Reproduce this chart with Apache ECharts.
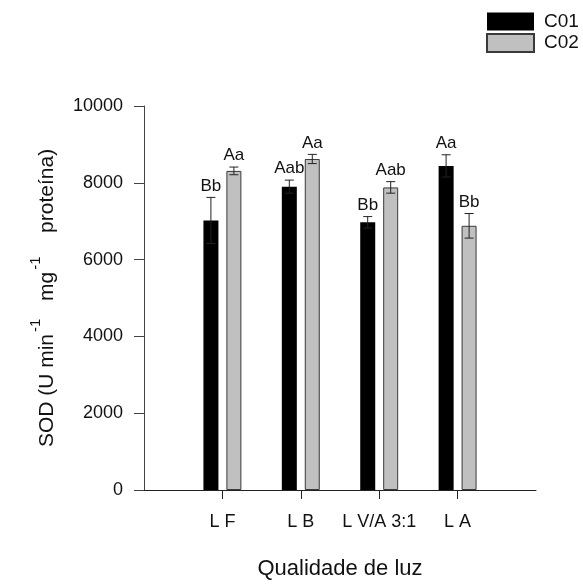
<!DOCTYPE html>
<html>
<head>
<meta charset="utf-8">
<script src="https://cdn.jsdelivr.net/npm/echarts@6/dist/echarts.min.js"></script>
<style>
  html, body { margin: 0; padding: 0; background: #fff; }
  #chart { width: 583px; height: 585px; }
</style>
</head>
<body>
<div id="chart"></div>
<script>
// Light quality treatments
const categories = ['L F', 'L B', 'L V/A 3:1', 'L A'];

// SOD activity means and standard errors
const c01Values = [7020, 7900, 6970, 8440];
const c01Errors = [600, 170, 150, 290];
const c01Letters = ['Bb', 'Aab', 'Bb', 'Aa'];

const c02Values = [8310, 8620, 7880, 6880];
const c02Errors = [100, 120, 150, 320];
const c02Letters = ['Aa', 'Aa', 'Aab', 'Bb'];

const yTicks = [0, 2000, 4000, 6000, 8000, 10000];

const FONT = "'Liberation Sans', Arial, sans-serif";

// pad the axis with empty slots so the groups sit on interior ticks
const axisCats = [''].concat(categories, ['']);
const pad = arr => [null].concat(arr, [null]);

const BAR_W = 15;
const HALF_SPACING = 11.5;

function renderError(letters, side) {
  return function (params, api) {
    const x = api.value(0);
    const v = api.value(1);
    const e = api.value(2);
    const top = api.coord([x, v + e]);
    const bot = api.coord([x, v - e]);
    const cx = top[0] + side * HALF_SPACING;
    const cap = 4.5;
    const ls = { stroke: '#222', lineWidth: 1 };
    return {
      type: 'group',
      children: [
        { type: 'line', shape: { x1: cx, y1: bot[1], x2: cx, y2: top[1] }, style: ls },
        { type: 'line', shape: { x1: cx - cap, y1: top[1], x2: cx + cap, y2: top[1] }, style: ls },
        { type: 'line', shape: { x1: cx - cap, y1: bot[1], x2: cx + cap, y2: bot[1] }, style: ls },
        {
          type: 'text',
          x: cx, y: top[1] - 3,
          style: {
            text: letters[params.dataIndex], fill: '#111', font: '17px ' + FONT,
            align: 'center', verticalAlign: 'bottom'
          }
        }
      ]
    };
  };
}

function makeErrorSeries(name, values, errors, letters, side) {
  return {
    name: name,
    type: 'custom',
    z: 5,
    silent: true,
    data: values.map((v, i) => [i + 1, v, errors[i]]),
    renderItem: renderError(letters, side)
  };
}

const chart = echarts.init(document.getElementById('chart'), null, { renderer: 'canvas' });

chart.setOption({
  backgroundColor: '#fff',
  animation: false,
  textStyle: { fontFamily: FONT },
  grid: { left: 144, right: 47, top: 106, bottom: 87, containLabel: false },
  legend: {
    orient: 'vertical',
    left: 486, top: 12,
    data: ['C01', 'C02'],
    icon: 'rect',
    itemWidth: 47, itemHeight: 18, itemGap: 2,
    padding: 0,
    textStyle: { fontSize: 19, color: '#111', fontFamily: FONT, padding: [0, 0, 0, 5] }
  },
  xAxis: {
    type: 'category',
    data: axisCats,
    boundaryGap: false,
    axisLine: { lineStyle: { color: '#222', width: 1 } },
    axisTick: {
      length: 9,
      interval: (i, v) => v !== '',
      lineStyle: { color: '#222' }
    },
    axisLabel: {
      interval: 0, margin: 23, fontSize: 18, color: '#111', fontFamily: FONT
    },
    name: 'Qualidade de luz',
    nameLocation: 'middle',
    nameGap: 68,
    nameTextStyle: { fontSize: 22, color: '#111', fontFamily: FONT },
    splitLine: { show: false }
  },
  yAxis: {
    type: 'value',
    min: yTicks[0],
    max: yTicks[yTicks.length - 1],
    interval: yTicks[1] - yTicks[0],
    axisLine: { show: true, lineStyle: { color: '#444', width: 1 } },
    axisTick: { show: true, length: 10, lineStyle: { color: '#444' } },
    axisLabel: {
      margin: 21, fontSize: 18, color: '#111', fontFamily: FONT,
      formatter: v => String(v)
    },
    splitLine: { show: false },
    name: '{a|SOD (U min}{s|-1}{a|  mg}{s|-1}{a|   proteína)}',
    nameLocation: 'middle',
    nameRotate: 90,
    nameGap: 86,
    nameTextStyle: {
      fontFamily: FONT,
      rich: {
        a: { fontSize: 21, color: '#111', fontFamily: FONT, lineHeight: 30, verticalAlign: 'bottom' },
        s: { fontSize: 15, color: '#111', fontFamily: FONT, lineHeight: 30, verticalAlign: 'top', padding: [0, 6, 0, 2] }
      }
    }
  },
  series: [
    {
      name: 'C01',
      type: 'bar',
      data: pad(c01Values),
      barWidth: BAR_W,
      barGap: '53%',
      itemStyle: { color: '#000' }
    },
    {
      name: 'C02',
      type: 'bar',
      data: pad(c02Values),
      barWidth: BAR_W,
      itemStyle: { color: '#c0c0c0', borderColor: '#3a3a3a', borderWidth: 1 }
    },
    makeErrorSeries('C01 erro', c01Values, c01Errors, c01Letters, -1),
    makeErrorSeries('C02 erro', c02Values, c02Errors, c02Letters, 1)
  ]
});
</script>
</body>
</html>
